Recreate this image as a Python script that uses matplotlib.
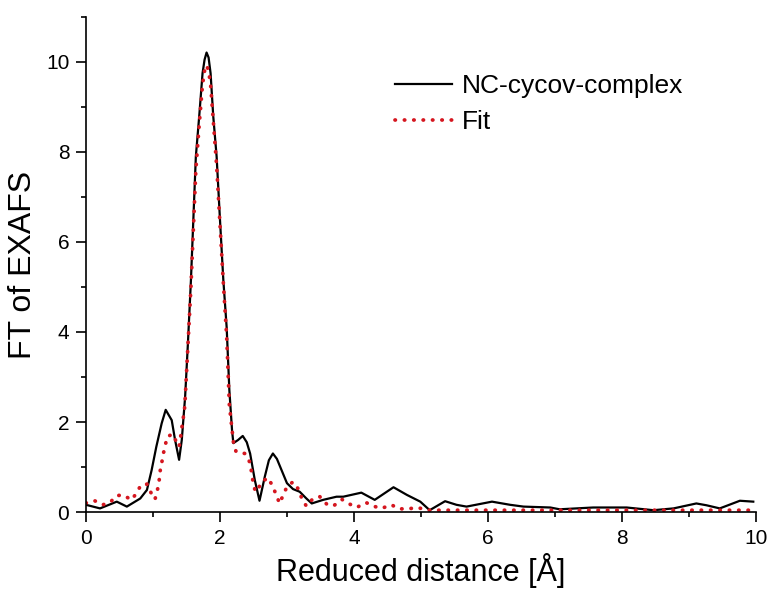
import matplotlib
matplotlib.use("Agg")
import matplotlib.pyplot as plt
from matplotlib.ticker import MultipleLocator

plt.rcParams['font.family'] = ['Liberation Sans', 'DejaVu Sans']

r_data = [0.0, 0.21, 0.46, 0.61, 0.81, 0.91, 0.98, 1.05, 1.13, 1.19, 1.28, 1.33,
          1.39, 1.43, 1.48, 1.52, 1.567, 1.64, 1.69, 1.74, 1.77, 1.80, 1.83, 1.86,
          1.90, 1.95, 2.00, 2.05, 2.10, 2.14, 2.18, 2.20, 2.27, 2.34, 2.40, 2.45,
          2.52, 2.59, 2.67, 2.73, 2.79, 2.85, 2.90, 3.00, 3.09, 3.19, 3.29, 3.37,
          3.54, 3.74, 3.84, 4.11, 4.31, 4.59, 4.79, 4.99, 5.13, 5.36, 5.53, 5.68,
          6.06, 6.33, 6.53, 6.93, 7.07, 7.57, 8.07, 8.47, 8.77, 9.11, 9.26, 9.46,
          9.76, 9.96]
ft_data = [0.16, 0.08, 0.23, 0.12, 0.30, 0.49, 0.93, 1.45, 1.97, 2.27, 2.04, 1.60,
           1.16, 1.60, 2.56, 3.70, 5.16, 7.90, 8.79, 9.75, 10.05, 10.21, 10.10, 9.75,
           8.79, 7.90, 6.50, 5.16, 4.10, 2.71, 1.82, 1.53, 1.60, 1.69, 1.55, 1.30,
           0.71, 0.25, 0.79, 1.15, 1.30, 1.18, 1.00, 0.64, 0.51, 0.45, 0.30, 0.19,
           0.27, 0.34, 0.34, 0.43, 0.27, 0.55, 0.38, 0.23, 0.04, 0.24, 0.16, 0.12,
           0.23, 0.16, 0.12, 0.10, 0.06, 0.10, 0.10, 0.04, 0.08, 0.19, 0.15, 0.08,
           0.25, 0.23]

# fit (red dotted)
r_fit = [0.0, 0.13, 0.25, 0.36, 0.45, 0.55, 0.68, 0.76, 0.82, 0.91, 0.97, 1.03,
         1.06, 1.09, 1.10, 1.13, 1.15, 1.18, 1.21, 1.29, 1.35, 1.39, 1.41, 1.44,
         1.47, 1.48, 1.567, 1.64, 1.69, 1.74, 1.77, 1.80, 1.83, 1.86, 1.90, 1.95,
         2.05, 2.10, 2.14, 2.17, 2.20, 2.24, 2.30, 2.37, 2.44, 2.47, 2.49, 2.52,
         2.55, 2.62, 2.72, 2.79, 2.84, 2.89, 2.95, 3.00, 3.09, 3.18, 3.22, 3.29,
         3.39, 3.49, 3.59, 3.69, 3.82, 3.93, 4.04, 4.18, 4.29, 4.41, 4.56, 4.67,
         4.81, 4.95, 5.09, 5.23, 6.0, 7.0, 8.0, 9.0, 9.9]
ft_fit = [0.20, 0.25, 0.16, 0.21, 0.36, 0.38, 0.27, 0.43, 0.60, 0.62, 0.43, 0.28,
          0.45, 0.64, 0.86, 1.08, 1.27, 1.45, 1.67, 1.73, 1.56, 1.45, 1.64, 1.97,
          2.27, 2.49, 5.00, 7.60, 8.60, 9.50, 9.80, 9.93, 9.80, 9.50, 8.70, 7.70,
          5.10, 3.90, 2.38, 1.97, 1.56, 1.34, 1.32, 1.30, 1.12, 0.90, 0.70, 0.50,
          0.45, 0.67, 0.76, 0.56, 0.38, 0.19, 0.40, 0.56, 0.67, 0.49, 0.30, 0.13,
          0.30, 0.34, 0.18, 0.13, 0.28, 0.18, 0.10, 0.21, 0.13, 0.08, 0.16, 0.07,
          0.07, 0.10, 0.04, 0.04, 0.04, 0.04, 0.04, 0.04, 0.04]

fig = plt.figure(figsize=(7.71, 5.90), dpi=100)
ax = fig.add_axes([0.1115, 0.1322, 0.869, 0.839])

ax.plot(r_data, ft_data, color="black", linewidth=1.6, label="NC-cycov-complex")
ax.plot(r_fit, ft_fit, color="#d5161f", linewidth=2.7,
        linestyle=(0, (0.1, 2.4)), dash_capstyle="round", label="Fit")

ax.set_xlim(0, 10)
ax.set_ylim(0, 11)
ax.xaxis.set_major_locator(MultipleLocator(2))
ax.xaxis.set_minor_locator(MultipleLocator(1))
ax.yaxis.set_major_locator(MultipleLocator(2))
ax.yaxis.set_minor_locator(MultipleLocator(1))

for side in ["top", "right"]:
    ax.spines[side].set_visible(False)
for side in ["left", "bottom"]:
    ax.spines[side].set_linewidth(1.2)

ax.tick_params(which="major", direction="out", length=7, width=1.2,
               labelsize=15, pad=5)
ax.tick_params(which="minor", direction="out", length=3.8, width=1.2)

ax.set_xlabel("Reduced distance [Å]", fontsize=22, labelpad=4)
ax.set_ylabel("FT of EXAFS", fontsize=23, labelpad=6)

ax.legend(loc="upper left", bbox_to_anchor=(0.461, 0.884), frameon=False,
          fontsize=19, handlelength=2.15, handletextpad=0.4, labelspacing=0.45,
          borderpad=0, borderaxespad=0)

fig.savefig("out.png", dpi=100)
